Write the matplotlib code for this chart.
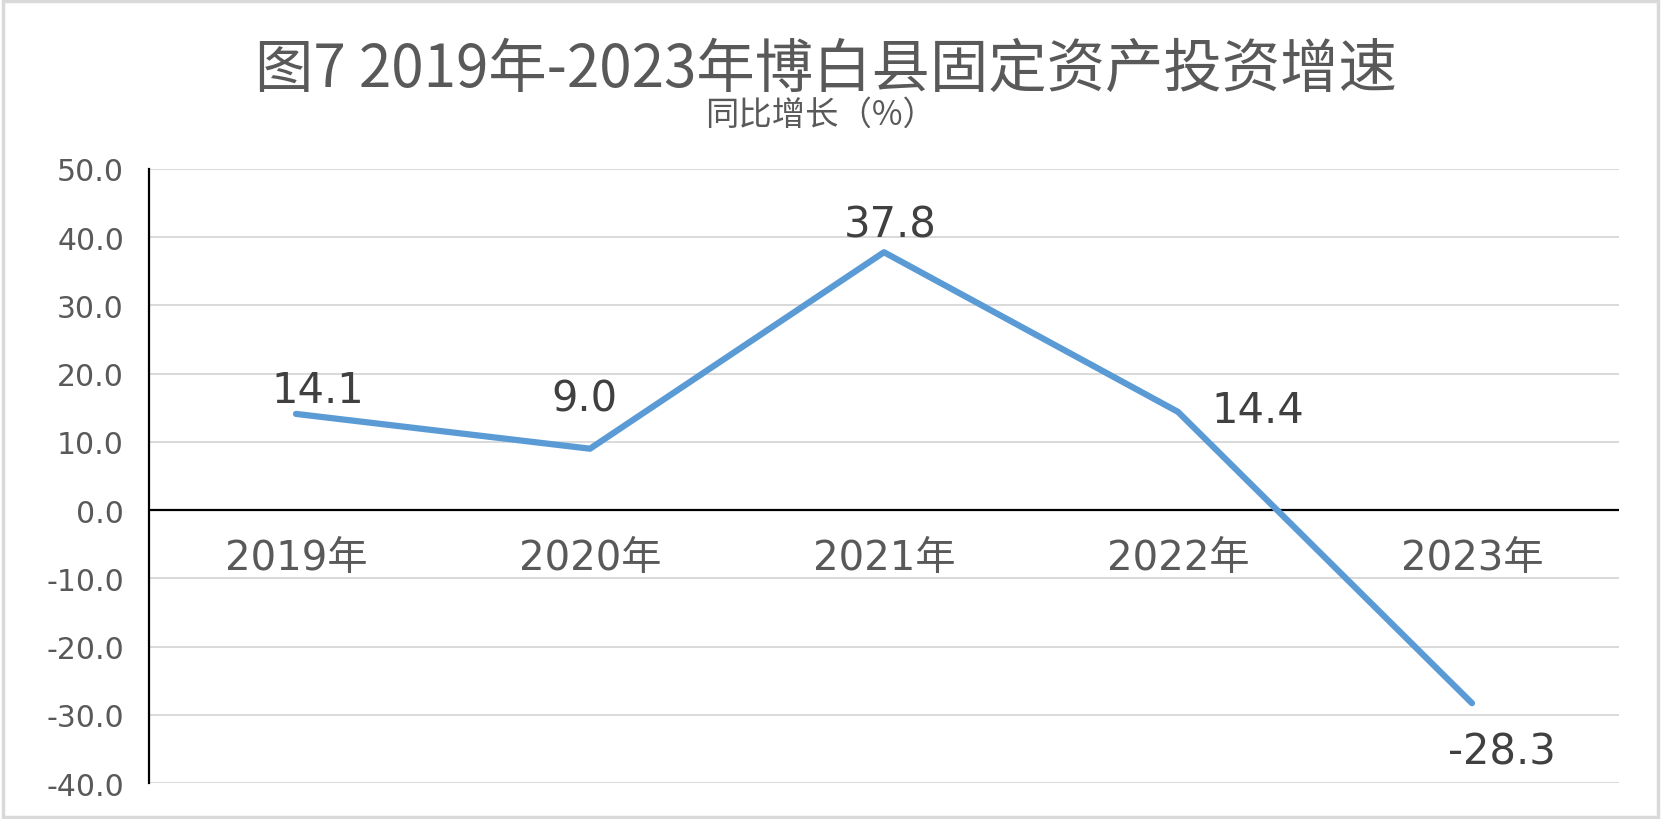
import matplotlib
matplotlib.use("Agg")
import matplotlib.pyplot as plt
from matplotlib.patches import Rectangle
from matplotlib.ticker import FormatStrFormatter

plt.rcParams['font.family'] = ['DejaVu Sans', 'Noto Sans CJK SC']

# data
years = ["2019年", "2020年", "2021年", "2022年", "2023年"]
growth = [14.1, 9.0, 37.8, 14.4, -28.3]
# label offsets (pixels) for each data label
label_offsets = [(22, 24), (-6, 50), (6, 28), (80, 2), (30, -48)]

fig = plt.figure(figsize=(16.61, 8.2), dpi=100)
ax = fig.add_axes([0.0897, 0.0439, 0.8850, 0.7488])

x = list(range(len(years)))
ax.plot(x, growth, color="#5B9BD5", linewidth=4.5, solid_joinstyle="round",
        solid_capstyle="round", zorder=3)

ax.set_xlim(-0.5, len(years) - 0.5)
ax.set_ylim(-40, 50)
ax.set_yticks(range(-40, 51, 10))
ax.yaxis.set_major_formatter(FormatStrFormatter("%.1f"))
ax.tick_params(axis="y", length=0, pad=18, labelsize=21.5, labelcolor="#595959")
ax.set_xticks([])

ax.grid(axis="y", color="#D9D9D9", linewidth=1.4)
ax.set_axisbelow(True)
for s in ["top", "right", "bottom"]:
    ax.spines[s].set_visible(False)
ax.spines["left"].set_color("black")
ax.spines["left"].set_linewidth(1.6)
ax.axhline(0, color="black", linewidth=1.6, zorder=2)

# category labels below the zero line
for i, yr in enumerate(years):
    ax.annotate(yr, xy=(i, 0), xytext=(0, -48), textcoords="offset pixels",
                ha="center", va="center", fontsize=29, color="#595959")

# data labels
for i, v in enumerate(growth):
    dx, dy = label_offsets[i]
    ax.annotate(f"{v:.1f}", xy=(i, v), xytext=(dx, dy), textcoords="offset pixels",
                ha="center", va="center", fontsize=30, color="#404040")

fig.text(0.497, 0.914, "图7 2019年-2023年博白县固定资产投资增速", ha="center", va="center",
         fontsize=42, color="#595959", family=["Noto Sans CJK SC", "DejaVu Sans"])
fig.text(0.494, 0.859, "同比增长（%）", ha="center", va="center",
         fontsize=24, color="#595959", family=["Noto Sans CJK SC", "DejaVu Sans"])

# outer border
fig.patches.append(Rectangle((0.002, 0.003), 0.996, 0.994, transform=fig.transFigure,
                             fill=False, edgecolor="#D9D9D9", linewidth=2.5))

fig.savefig("out.png", dpi=100)
